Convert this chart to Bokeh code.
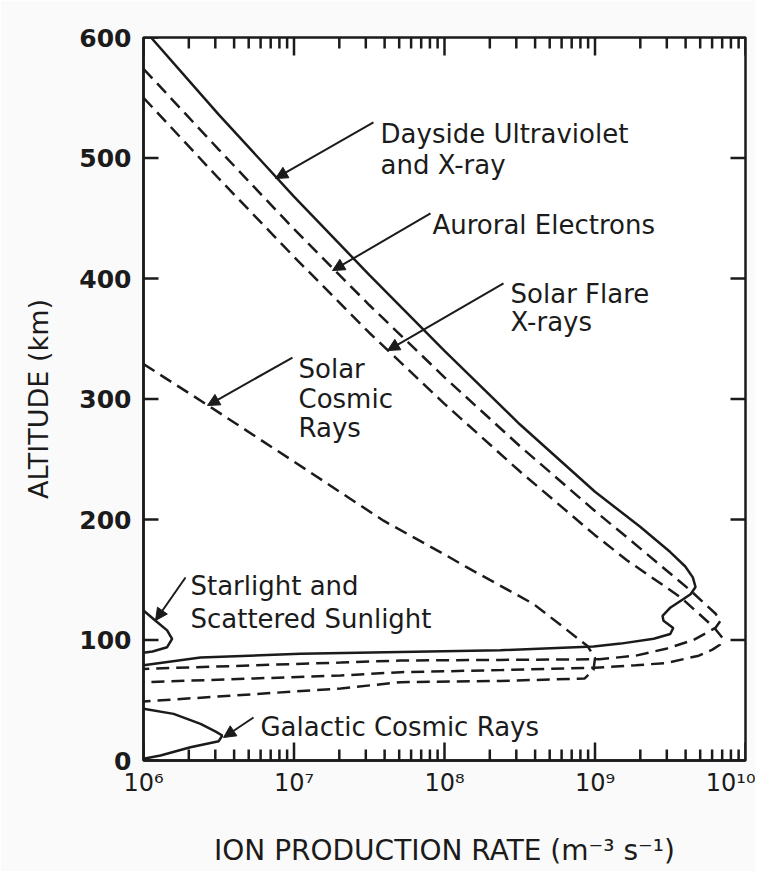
from bokeh.plotting import figure
from bokeh.models import FixedTicker, LogAxis, LinearAxis, Label, Arrow, NormalHead
from bokeh.embed import file_html
from bokeh.resources import INLINE

# ---------------- data ----------------
x_tick_values = [1e6, 1e7, 1e8, 1e9, 1e10]
x_tick_labels = ["10⁶", "10⁷", "10⁸", "10⁹", "10¹⁰"]
y_tick_values = [0, 100, 200, 300, 400, 500, 600]

# Dayside ultraviolet and X-ray (solid)
dayside_log10_rate = [6.05, 6.5, 7.0, 7.5, 8.0, 8.5, 9.0, 9.3, 9.5, 9.6, 9.65, 9.668,
                      9.635, 9.588, 9.502, 9.449, 9.455, 9.52, 9.50, 9.39, 9.17, 8.99, 8.372,
                      7.708, 7.043, 6.379, 6.0]
dayside_alt = [600, 536, 468, 403, 340, 279, 223, 194, 173, 161, 152, 144,
               138, 134, 127, 120, 116, 110, 105, 101, 97, 94.6, 91.5,
               90, 88.5, 85.5, 79]

# Auroral electrons (dashed)
auroral_log10_rate = [6.0, 6.5, 7.0, 7.5, 8.0, 8.5, 9.0, 9.214, 9.635, 9.80, 9.834, 9.80,
                      9.654, 9.48, 9.27, 9.03, 8.37, 7.708, 7.31, 6.0]
auroral_alt = [574, 507, 441, 378, 318, 261, 207, 185, 141, 122, 116, 110,
               100, 93, 87, 84, 83.5, 83, 81.3, 76]

# Solar flare X-rays (dashed)
flare_log10_rate = [6.0, 6.5, 7.0, 7.5, 8.0, 8.5, 9.0, 9.214, 9.568, 9.79, 9.845, 9.83,
                    9.78, 9.69, 9.48, 9.27, 9.0, 8.37, 7.708, 7.31, 6.0]
flare_alt = [550, 483, 418, 355, 296, 240, 187, 166, 135.5, 110.6, 102, 96,
             92, 87, 81, 79, 77, 75, 73.3, 70.5, 65]

# Solar cosmic rays (dashed)
scr_log10_rate = [6.0, 6.425, 7.0, 7.595, 8.0, 8.153, 8.59, 8.817, 8.95, 9.0, 8.99, 8.93,
                  8.37, 7.708, 7.31, 6.0]
scr_alt = [329, 295, 248, 199, 171, 160, 130, 108, 95, 85, 75, 68,
           66, 65, 59.8, 49]

# Starlight and scattered sunlight (solid)
star_log10_rate = [6.0, 6.08, 6.157, 6.19, 6.157, 6.06, 6.0]
star_alt = [124.5, 116, 108, 101, 94, 90.5, 89.5]

# Galactic cosmic rays (solid)
gcr_log10_rate = [6.0, 6.2, 6.379, 6.48, 6.523, 6.5, 6.312, 6.113, 6.0]
gcr_alt = [43, 38.7, 30.4, 24, 20.7, 16, 11, 4.1, 1.5]

# annotations: text lines (x in log10 rate, baseline altitude) and arrows
label_texts = ["Dayside Ultraviolet", "and X-ray", "Auroral Electrons", "Solar Flare", "X-rays",
               "Solar", "Cosmic", "Rays", "Starlight and", "Scattered Sunlight",
               "Galactic Cosmic Rays"]
label_log10_x = [7.575, 7.575, 7.920, 8.439, 8.439, 7.030, 7.030, 7.030, 6.312, 6.312, 6.777]
label_alt = [520.3, 493.8, 444.0, 387.5, 363.5, 325.3, 300.4, 276.3, 145.2, 117.8, 27.4]

arrow_start_log10 = [7.528, 7.907, 8.392, 6.990, 6.279, 6.731]
arrow_start_alt = [529.5, 454.0, 395.9, 334.4, 151.9, 35.7]
arrow_end_log10 = [6.877, 7.256, 7.621, 6.425, 6.080, 6.532]
arrow_end_alt = [483.0, 406.6, 340.2, 294.6, 116.2, 19.1]

# ---------------- figure ----------------
INK = "#1b1b1b"
BG = "#fafafa"
FONT = "DejaVu Sans"

W, H = 755, 871
B_LEFT, B_RIGHT, B_TOP, B_BOTTOM = 143, 10, 37, 111

p = figure(width=W, height=H, x_axis_type="log", x_range=(1e6, 1e10), y_range=(0, 600),
           x_axis_location=None, y_axis_location=None,
           output_backend="svg", toolbar_location=None,
           min_border_left=B_LEFT, min_border_right=B_RIGHT,
           min_border_top=B_TOP, min_border_bottom=B_BOTTOM)
p.grid.visible = False
p.background_fill_color = None
p.border_fill_color = BG
p.outline_line_color = INK
p.outline_line_width = 2.5

minor = [k * v for v in x_tick_values[:-1] for k in range(2, 10)]

bottom_axis = LogAxis(ticker=FixedTicker(ticks=x_tick_values, minor_ticks=[]))
left_axis = LinearAxis(ticker=FixedTicker(ticks=y_tick_values, minor_ticks=[]))
p.add_layout(bottom_axis, "below")
p.add_layout(left_axis, "left")

for ax in [bottom_axis, left_axis]:
    ax.major_tick_in = 0
    ax.major_tick_out = 0
    ax.minor_tick_in = 0
    ax.minor_tick_out = 0
    ax.axis_line_width = 2.5
    ax.axis_line_color = INK

# inward tick marks on all four sides, drawn as segments (lengths converted from pixels)
frame_w = W - B_LEFT - B_RIGHT
frame_h = H - B_TOP - B_BOTTOM
y_lo, y_hi = y_tick_values[0], y_tick_values[-1]
x_lo, x_hi = x_tick_values[0], x_tick_values[-1]
alt_per_px = (y_hi - y_lo) / frame_h
dec_per_px = 4.0 / frame_w
maj_len = 18 * alt_per_px
min_len = 11 * alt_per_px
y_fac = 10 ** (15 * dec_per_px)
seg = dict(line_color=INK, line_width=2.5)
nx, nm, ny = len(x_tick_values), len(minor), len(y_tick_values)
p.segment(x0=x_tick_values, y0=[y_lo] * nx, x1=x_tick_values, y1=[y_lo + maj_len] * nx, **seg)
p.segment(x0=x_tick_values, y0=[y_hi] * nx, x1=x_tick_values, y1=[y_hi - maj_len] * nx, **seg)
p.segment(x0=minor, y0=[y_lo] * nm, x1=minor, y1=[y_lo + min_len] * nm, **seg)
p.segment(x0=minor, y0=[y_hi] * nm, x1=minor, y1=[y_hi - min_len] * nm, **seg)
p.segment(x0=[x_lo] * ny, y0=y_tick_values, x1=[x_lo * y_fac] * ny, y1=y_tick_values, **seg)
p.segment(x0=[x_hi] * ny, y0=y_tick_values, x1=[x_hi / y_fac] * ny, y1=y_tick_values, **seg)

bottom_axis.major_label_overrides = {v: t for v, t in zip(x_tick_values, x_tick_labels)}
bottom_axis.major_label_text_font = FONT
bottom_axis.major_label_text_font_size = "24px"
bottom_axis.major_label_text_color = INK
bottom_axis.major_label_standoff = 8
bottom_axis.axis_label = "ION PRODUCTION RATE (m⁻³ s⁻¹)"
bottom_axis.axis_label_text_font = FONT
bottom_axis.axis_label_text_font_size = "28px"
bottom_axis.axis_label_text_font_style = "normal"
bottom_axis.axis_label_text_color = INK
bottom_axis.axis_label_standoff = 34

left_axis.major_label_text_font = FONT
left_axis.major_label_text_font_size = "25px"
left_axis.major_label_text_font_style = "bold"
left_axis.major_label_text_color = INK
left_axis.major_label_standoff = 12
left_axis.axis_label = "ALTITUDE (km)"
left_axis.axis_label_text_font = FONT
left_axis.axis_label_text_font_size = "27px"
left_axis.axis_label_text_font_style = "normal"
left_axis.axis_label_text_color = INK
left_axis.axis_label_standoff = 22


def rates(logs):
    return [10 ** v for v in logs]


p.line(rates(dayside_log10_rate), dayside_alt, line_width=2.5, line_color=INK)
p.line(rates(star_log10_rate), star_alt, line_width=2.5, line_color=INK)
p.line(rates(gcr_log10_rate), gcr_alt, line_width=2.5, line_color=INK)
for lr, al in [(auroral_log10_rate, auroral_alt), (flare_log10_rate, flare_alt), (scr_log10_rate, scr_alt)]:
    p.line(rates(lr), al, line_width=2.5, line_color=INK, line_dash="13 7")

for t, lx, la in zip(label_texts, label_log10_x, label_alt):
    p.add_layout(Label(x=10 ** lx, y=la, text=t, text_font=FONT, text_font_size="26px",
                       text_color=INK, text_baseline="alphabetic", text_align="left"))

for xs, ys, xe, ye in zip(arrow_start_log10, arrow_start_alt, arrow_end_log10, arrow_end_alt):
    p.add_layout(Arrow(x_start=10 ** xs, y_start=ys, x_end=10 ** xe, y_end=ye,
                       line_width=2, line_color=INK,
                       end=NormalHead(size=12, fill_color=INK, line_color=INK, line_width=1)))

open("out.html", "w").write(file_html(p, INLINE))
